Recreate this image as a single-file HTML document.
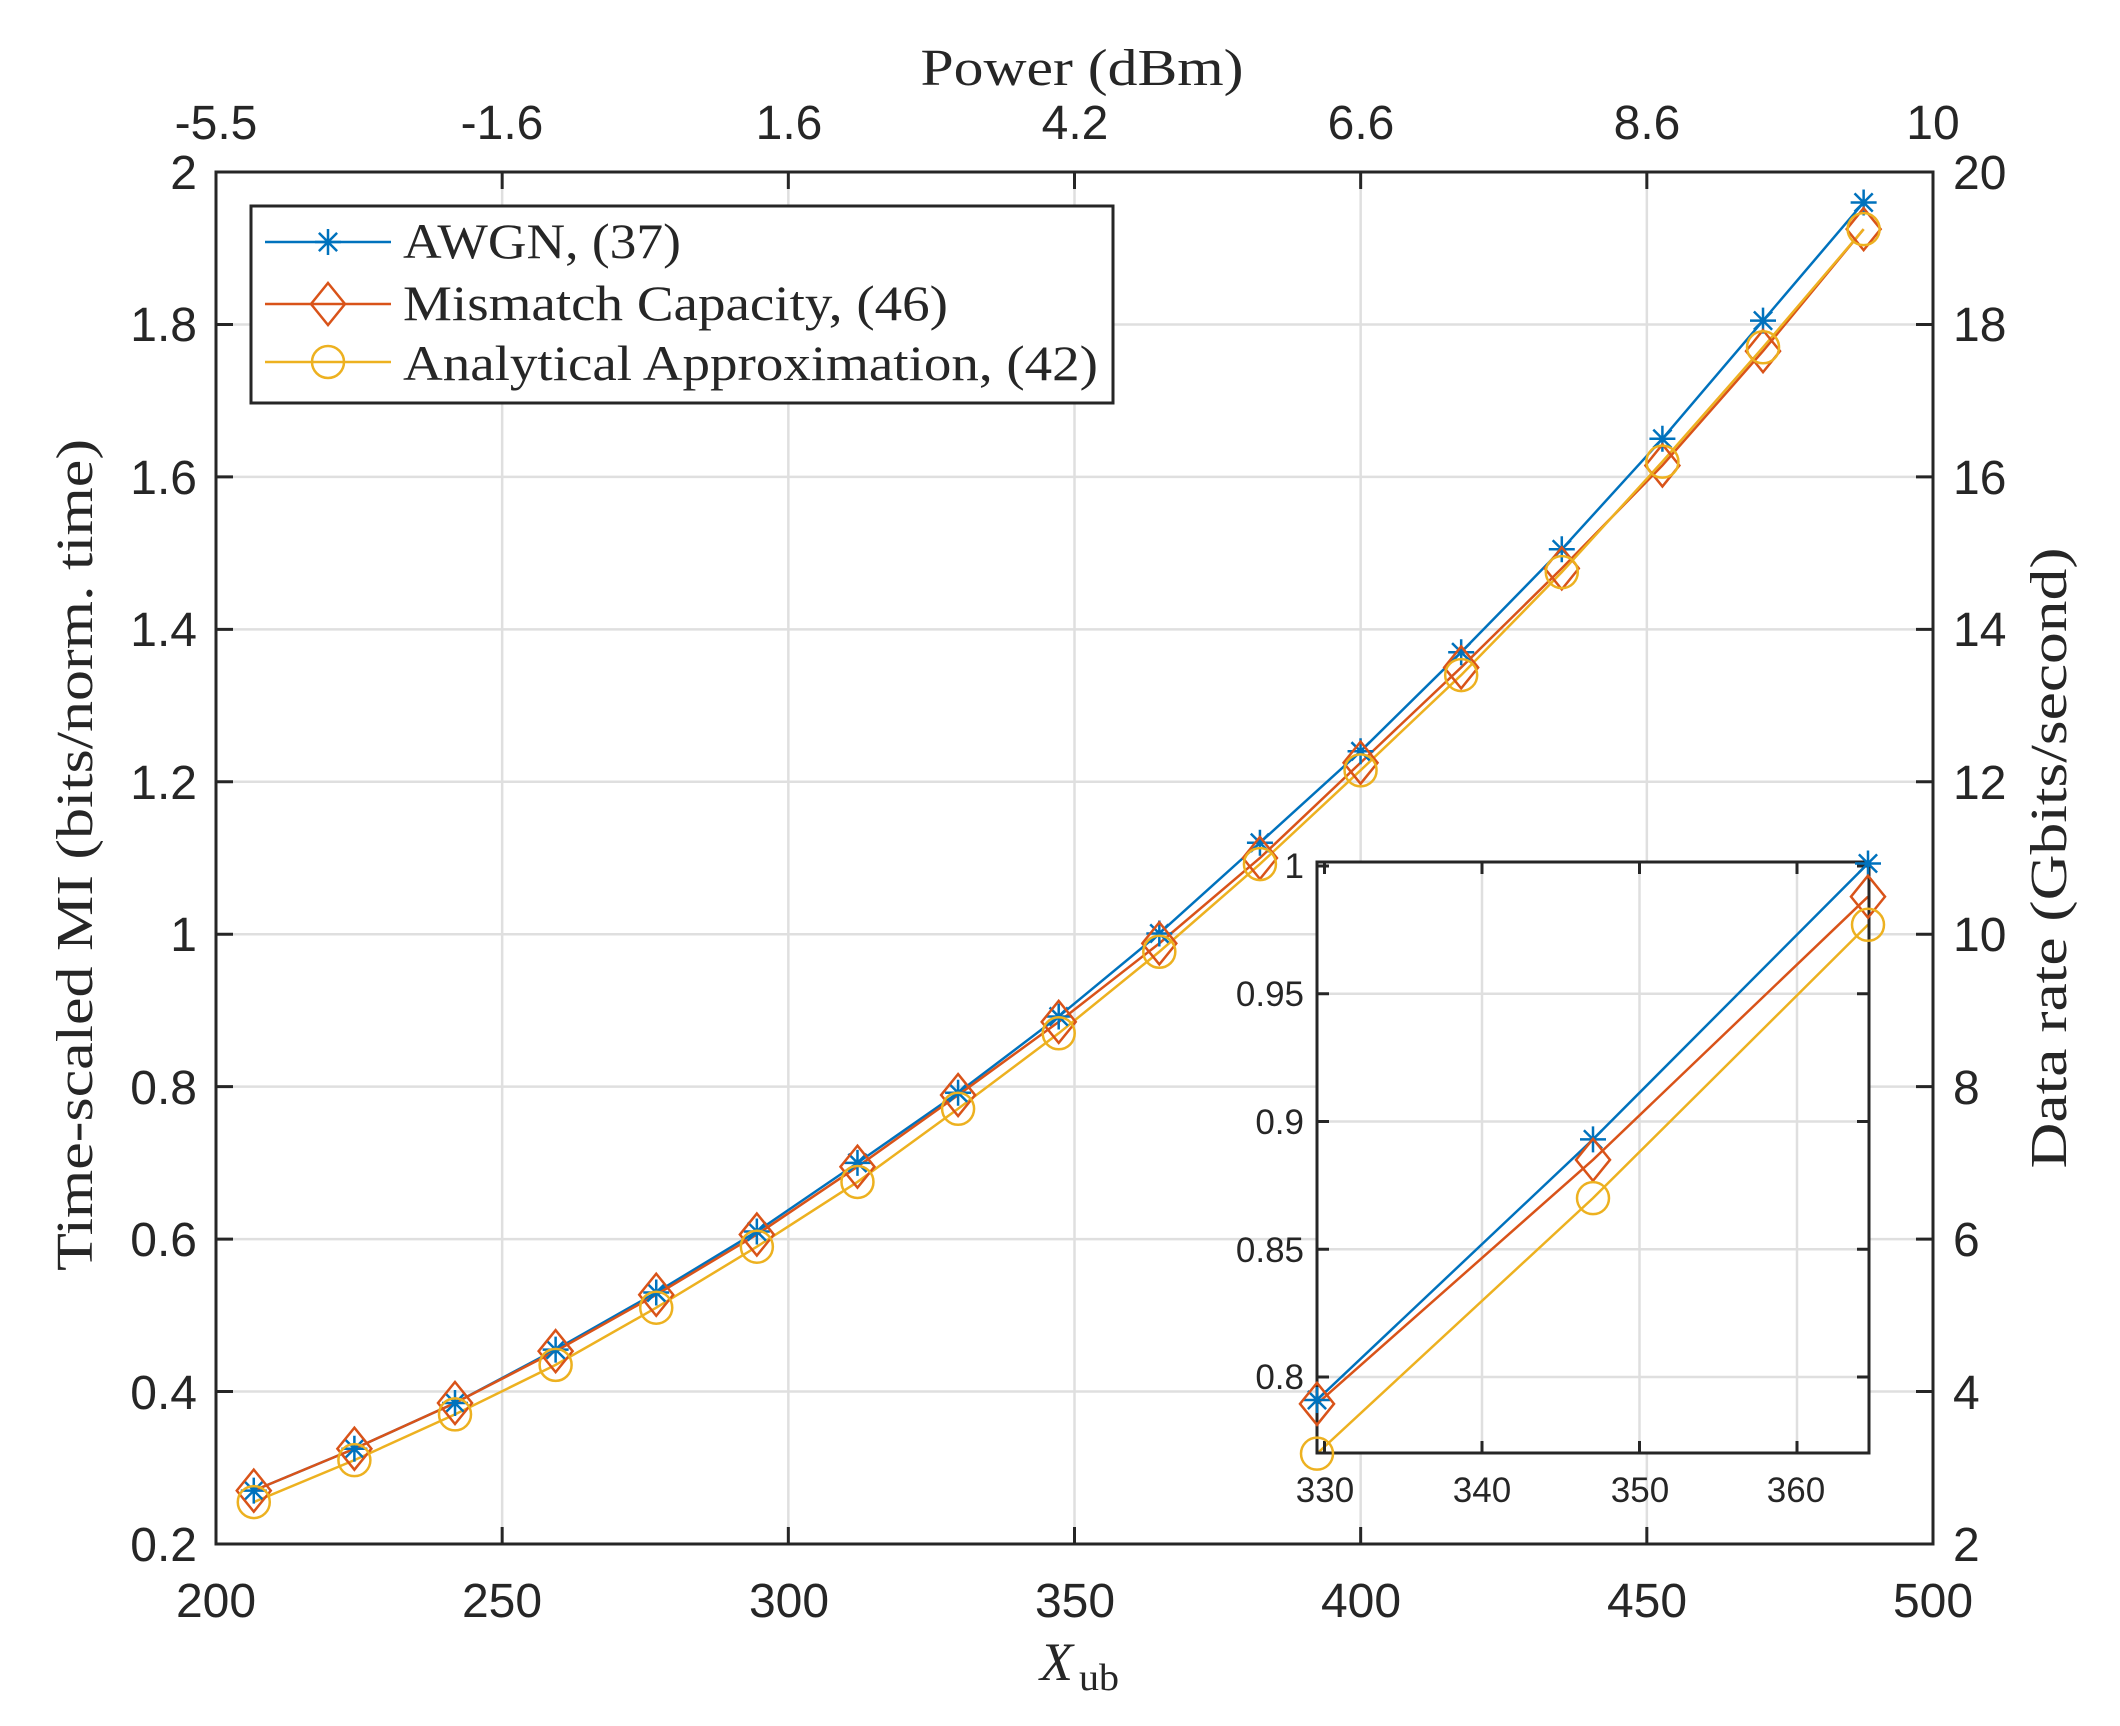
<!DOCTYPE html>
<html><head><meta charset="utf-8"><style>
html,body{margin:0;padding:0;background:#fff}
svg{display:block}
.t{font-family:"Liberation Sans",sans-serif;fill:#262626}
.s{font-family:"Liberation Serif",serif;fill:#262626}
</style></head><body>
<svg id="c" width="2120" height="1726" viewBox="0 0 2120 1726" xmlns="http://www.w3.org/2000/svg">
<rect width="2120" height="1726" fill="#fff"/>
<g id="grid"></g>
<defs>
<clipPath id="mc"><rect x="216" y="172" width="1717" height="1372"/></clipPath>
<clipPath id="ic"><rect x="1317" y="862" width="552" height="591"/></clipPath>
</defs>
<g id="main" clip-path="url(#mc)"></g>
<g id="mticks"></g>
<rect x="216" y="172" width="1717" height="1372" fill="none" stroke="#262626" stroke-width="3"/>
<!-- tick labels bottom -->
<g class="t" font-size="48" text-anchor="middle">
<text x="216" y="1617">200</text><text x="502" y="1617">250</text><text x="789" y="1617">300</text>
<text x="1075" y="1617">350</text><text x="1361" y="1617">400</text><text x="1647" y="1617">450</text><text x="1933" y="1617">500</text>
<text x="216" y="139">-5.5</text><text x="502" y="139">-1.6</text><text x="789" y="139">1.6</text>
<text x="1075" y="139">4.2</text><text x="1361" y="139">6.6</text><text x="1647" y="139">8.6</text><text x="1933" y="139">10</text>
</g>
<g class="t" font-size="48" text-anchor="end">
<text x="197" y="1561">0.2</text><text x="197" y="1409">0.4</text><text x="197" y="1256">0.6</text>
<text x="197" y="1104">0.8</text><text x="197" y="951">1</text><text x="197" y="799">1.2</text>
<text x="197" y="646">1.4</text><text x="197" y="494">1.6</text><text x="197" y="341">1.8</text><text x="197" y="189">2</text>
</g>
<g class="t" font-size="48" text-anchor="start">
<text x="1953" y="1561">2</text><text x="1953" y="1409">4</text><text x="1953" y="1256">6</text>
<text x="1953" y="1104">8</text><text x="1953" y="951">10</text><text x="1953" y="799">12</text>
<text x="1953" y="646">14</text><text x="1953" y="494">16</text><text x="1953" y="341">18</text><text x="1953" y="189">20</text>
</g>
<text class="s" x="1082" y="85" font-size="52" text-anchor="middle" textLength="323" lengthAdjust="spacingAndGlyphs">Power (dBm)</text>
<text class="s" x="1040" y="1680" font-size="54" font-style="italic">X</text>
<text class="s" x="1079" y="1690" font-size="38" textLength="40" lengthAdjust="spacingAndGlyphs">ub</text>
<text class="s" transform="translate(92,855) rotate(-90)" font-size="52" text-anchor="middle" textLength="832" lengthAdjust="spacingAndGlyphs">Time-scaled MI (bits/norm. time)</text>
<text class="s" transform="translate(2066,858) rotate(-90)" font-size="52" text-anchor="middle" textLength="621" lengthAdjust="spacingAndGlyphs">Data rate (Gbits/second)</text>
<!-- legend -->
<rect x="251" y="206" width="862" height="197" fill="#fff" stroke="#262626" stroke-width="3"/>
<g id="leg"></g>
<g class="s" font-size="50">
<text x="403" y="258" textLength="278" lengthAdjust="spacingAndGlyphs">AWGN, (37)</text>
<text x="403" y="320" textLength="545" lengthAdjust="spacingAndGlyphs">Mismatch Capacity, (46)</text>
<text x="403" y="380" textLength="695" lengthAdjust="spacingAndGlyphs">Analytical Approximation, (42)</text>
</g>
<!-- inset -->
<rect x="1317" y="862" width="552" height="591" fill="#fff"/>
<g id="igrid"></g>
<g id="inset" clip-path="url(#ic)"></g>
<g id="iticks"></g>
<rect x="1317" y="862" width="552" height="591" fill="none" stroke="#262626" stroke-width="3"/>
<g id="imark"></g>
<g class="t" font-size="35" text-anchor="middle">
<text x="1325" y="1502">330</text><text x="1482" y="1502">340</text><text x="1640" y="1502">350</text><text x="1796" y="1502">360</text>
</g>
<g class="t" font-size="35" text-anchor="end">
<text x="1304" y="878">1</text><text x="1304" y="1006">0.95</text><text x="1304" y="1134">0.9</text>
<text x="1304" y="1262">0.85</text><text x="1304" y="1389">0.8</text>
</g>
</svg>
<script>
const NS="http://www.w3.org/2000/svg";
function el(p,t,a){const e=document.createElementNS(NS,t);for(const k in a)e.setAttribute(k,a[k]);p.appendChild(e);return e;}
const X=v=>216+(v-200)*1717/300, Y=v=>1544-(v-0.2)*1372/1.8;
const g=document.getElementById('grid'),mt=document.getElementById('mticks');
for(let v=250;v<=450;v+=50){el(g,'line',{x1:X(v),x2:X(v),y1:172,y2:1544,stroke:'#dfdfdf','stroke-width':2.5});}
for(let v=0.4;v<1.9;v+=0.2){el(g,'line',{x1:216,x2:1933,y1:Y(v),y2:Y(v),stroke:'#dfdfdf','stroke-width':2.5});}
for(let v=200;v<=500;v+=50){el(mt,'line',{x1:X(v),x2:X(v),y1:1544,y2:1527,stroke:'#262626','stroke-width':3});el(mt,'line',{x1:X(v),x2:X(v),y1:172,y2:189,stroke:'#262626','stroke-width':3});}
for(let v=0.2;v<2.05;v+=0.2){el(mt,'line',{x1:216,x2:233,y1:Y(v),y2:Y(v),stroke:'#262626','stroke-width':3});el(mt,'line',{x1:1933,x2:1916,y1:Y(v),y2:Y(v),stroke:'#262626','stroke-width':3});}
const xs=[];for(let i=0;i<17;i++)xs.push(206.6+17.58*i);
const A=[0.27,0.325,0.385,0.455,0.53,0.61,0.70,0.792,0.892,1.001,1.12,1.24,1.37,1.505,1.65,1.805,1.96];
const M=[0.27,0.325,0.385,0.453,0.527,0.606,0.695,0.789,0.885,0.988,1.10,1.225,1.35,1.48,1.615,1.765,1.925];
const P=[0.255,0.31,0.37,0.435,0.51,0.59,0.675,0.771,0.87,0.977,1.092,1.215,1.34,1.475,1.62,1.77,1.925];
const C=['#0072BD','#D95319','#EDB120'];
function mark(p,type,x,y,c){
 if(type==0){const r=13;el(p,'path',{d:`M${x-r} ${y}H${x+r}M${x} ${y-r}V${y+r}M${x-r*.7} ${y-r*.7}L${x+r*.7} ${y+r*.7}M${x-r*.7} ${y+r*.7}L${x+r*.7} ${y-r*.7}`,stroke:c,'stroke-width':2.5,fill:'none'});}
 else if(type==1){el(p,'path',{d:`M${x} ${y-21}L${x+17} ${y}L${x} ${y+21}L${x-17} ${y}Z`,stroke:c,'stroke-width':2.5,fill:'none'});}
 else el(p,'circle',{cx:x,cy:y,r:16,stroke:c,'stroke-width':2.5,fill:'none'});
}
const m=document.getElementById('main');
[A,M,P].forEach((d,k)=>{el(m,'polyline',{points:xs.map((x,i)=>X(x)+','+Y(d[i])).join(' '),fill:'none',stroke:C[k],'stroke-width':2.5});});
[A,M,P].forEach((d,k)=>{xs.forEach((x,i)=>mark(m,k,X(x),Y(d[i]),C[k]));});
// legend
const lg=document.getElementById('leg');
[242,304,362].forEach((y,k)=>{el(lg,'line',{x1:265,x2:391,y1:y,y2:y,stroke:C[k],'stroke-width':2.5});mark(lg,k,328,y,C[k]);});
// inset
const IX=v=>1482+(v-340)*15.75, IY=v=>866+(1-v)*2555;
const ig=document.getElementById('igrid'),it=document.getElementById('iticks');
[340,350,360].forEach(v=>el(ig,'line',{x1:IX(v),x2:IX(v),y1:862,y2:1453,stroke:'#dfdfdf','stroke-width':2.5}));
[0.8,0.85,0.9,0.95].forEach(v=>el(ig,'line',{x1:1317,x2:1869,y1:IY(v),y2:IY(v),stroke:'#dfdfdf','stroke-width':2.5}));
[330,340,350,360].forEach(v=>{el(it,'line',{x1:IX(v),x2:IX(v),y1:1453,y2:1441,stroke:'#262626','stroke-width':3});el(it,'line',{x1:IX(v),x2:IX(v),y1:862,y2:874,stroke:'#262626','stroke-width':3});});
[0.8,0.85,0.9,0.95,1].forEach(v=>{el(it,'line',{x1:1317,x2:1329,y1:IY(v),y2:IY(v),stroke:'#262626','stroke-width':3});el(it,'line',{x1:1869,x2:1857,y1:IY(v),y2:IY(v),stroke:'#262626','stroke-width':3});});
const ixs=[329.8,347.4,365];
const IA=[0.791,0.893,1.001],IM=[0.7895,0.885,0.988],IP=[0.770,0.870,0.977];
const ins=document.getElementById('inset'),im=document.getElementById('imark');
const ipx=[1317,1593,1868];
[IA,IM,IP].forEach((d,k)=>{el(ins,'polyline',{points:ipx.map((x,i)=>x+','+IY(d[i])).join(' '),fill:'none',stroke:C[k],'stroke-width':2.5});});
[IA,IM,IP].forEach((d,k)=>{ipx.forEach((x,i)=>mark(im,k,x,IY(d[i]),C[k]));});
</script>
</body></html>
